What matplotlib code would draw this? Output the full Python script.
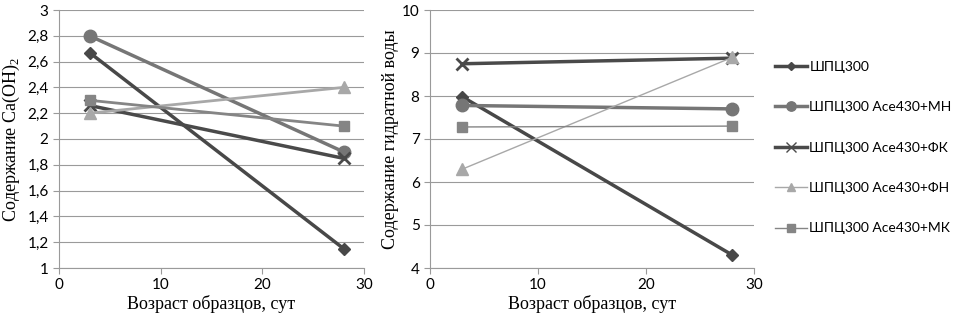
import matplotlib
matplotlib.use("Agg")
import matplotlib.pyplot as plt
from matplotlib.lines import Line2D

ages = [3, 28]
series_names = ["ШПЦ300", "ШПЦ300 Ace430+МН", "ШПЦ300 Ace430+ФК",
                "ШПЦ300 Ace430+ФН", "ШПЦ300 Ace430+МК"]
caoh2 = [[2.67, 1.15], [2.8, 1.9], [2.26, 1.85], [2.2, 2.4], [2.3, 2.1]]
water = [[7.98, 4.3], [7.78, 7.7], [8.75, 8.88], [6.3, 8.9], [7.28, 7.3]]

y1_ticks = [1, 1.2, 1.4, 1.6, 1.8, 2, 2.2, 2.4, 2.6, 2.8, 3]
y1_labels = ["1", "1,2", "1,4", "1,6", "1,8", "2", "2,2", "2,4", "2,6", "2,8", "3"]
y2_ticks = [4, 5, 6, 7, 8, 9, 10]
x_ticks = [0, 10, 20, 30]

colors = ["#484848", "#767676", "#4a4a4a", "#a8a8a8", "#858585"]
markers = ["D", "o", "x", "^", "s"]
msizes = [6, 9, 9, 8, 7]
lw_left = [2.5, 2.5, 2.5, 2.0, 2.0]
lw_right = [2.5, 2.5, 2.5, 1.0, 1.0]

fig = plt.figure(figsize=(9.56, 3.27), dpi=100)
ax1 = fig.add_axes([59/956, 1-268/327, 305/956, 258/327])
ax2 = fig.add_axes([430/956, 1-268/327, 324/956, 258/327])

tickfont = "Lato"
serif = "Liberation Serif"

for ax, data, lws in [(ax1, caoh2, lw_left), (ax2, water, lw_right)]:
    for i, vals in enumerate(data):
        ax.plot(ages, vals, color=colors[i], lw=lws[i], marker=markers[i],
                ms=msizes[i], mew=2 if markers[i] == "x" else 1,
                mec=colors[i], mfc=colors[i], zorder=3, clip_on=False)
    ax.set_xlim(0, 30)
    ax.set_xticks(x_ticks)
    ax.grid(axis="y", color="#9a9a9a", lw=0.8)
    ax.set_axisbelow(True)
    for s in ["top", "right"]:
        ax.spines[s].set_visible(False)
    for s in ["left", "bottom"]:
        ax.spines[s].set_color("#9a9a9a")
        ax.spines[s].set_linewidth(0.8)
    ax.tick_params(axis="both", colors="#9a9a9a", labelcolor="black",
                   length=4, width=0.8, labelsize=11)
    for lab in ax.get_xticklabels() + ax.get_yticklabels():
        lab.set_fontfamily(tickfont)
    ax.set_xlabel("Возраст образцов, сут", fontfamily=serif, fontsize=13,
                  labelpad=2)

ax1.set_ylim(1, 3)
ax1.set_yticks(y1_ticks)
ax1.set_yticklabels(y1_labels, fontfamily=tickfont, fontsize=11)
ax1.set_ylabel("Содержание Ca(OH)$_\\mathregular{2}$", fontfamily=serif,
               fontsize=13, labelpad=4)

ax2.set_ylim(4, 10)
ax2.set_yticks(y2_ticks)
ax2.set_yticklabels([str(t) for t in y2_ticks], fontfamily=tickfont, fontsize=11)
ax2.set_ylabel("Содержание гидратной воды", fontfamily=serif, fontsize=13,
               labelpad=2)

handles = [Line2D([0], [0], color=colors[i], lw=lw_right[i], marker=markers[i],
                  ms=msizes[i] * 0.75, mec=colors[i], mfc=colors[i])
           for i in range(5)]
fig.legend(handles, series_names, loc="upper left",
           bbox_to_anchor=(769/956, 1-55/327), frameon=False,
           prop={"family": tickfont, "size": 10}, labelspacing=2.05,
           handlelength=2.3, handletextpad=0.2, borderaxespad=0)

fig.savefig("out.png", dpi=100)
